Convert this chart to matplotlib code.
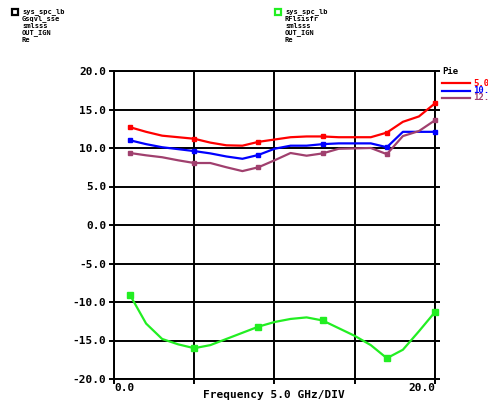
import numpy as np
import matplotlib
matplotlib.use("Agg")
import matplotlib.pyplot as plt

# Frecuencias de barrido (GHz) y curvas de ganancia / retorno (dB)
freq = [1, 2, 3, 4, 5, 6, 7, 8, 9, 10, 11, 12, 13, 14, 15, 16, 17, 18, 19, 20]
gain_p5 = [12.7, 12.1, 11.6, 11.4, 11.2, 10.7, 10.35, 10.3, 10.8, 11.1,
           11.4, 11.5, 11.5, 11.4, 11.4, 11.4, 12.0, 13.4, 14.1, 15.8]
gain_p10 = [11.0, 10.5, 10.1, 9.85, 9.6, 9.3, 8.9, 8.6, 9.1, 9.9,
            10.3, 10.3, 10.5, 10.6, 10.6, 10.6, 10.1, 12.1, 12.1, 12.1]
gain_p12 = [9.35, 9.05, 8.8, 8.4, 8.05, 8.05, 7.5, 7.0, 7.5, 8.4,
            9.35, 9.0, 9.3, 9.9, 9.95, 10.0, 9.2, 11.55, 12.2, 13.6]
ret_loss = [-9.1, -12.8, -14.8, -15.5, -16.0, -15.6, -14.8, -14.0, -13.2, -12.6,
            -12.2, -12.0, -12.4, -13.4, -14.4, -15.6, -17.3, -16.2, -13.8, -11.3]

pin_labels = ["5.0", "10.", "12."]
marker_idx = [0, 4, 8, 12, 16, 19]
yticks = [20, 15, 10, 5, 0, -5, -10, -15, -20]

RED = "#ff0000"
BLUE = "#0000ff"
PURPLE = "#a0406e"
GREEN = "#22ee22"
FONT = "DejaVu Sans Mono"

fig = plt.figure(figsize=(4.89, 4.05), dpi=100)
ax = fig.add_axes([114 / 489, 26 / 405, 321 / 489, 308 / 405])

series = [(gain_p5, RED, 3), (gain_p10, BLUE, 3), (gain_p12, PURPLE, 3),
          (ret_loss, GREEN, 4.5)]
for vals, col, ms in series:
    ax.plot(freq, vals, color=col, lw=1.6, marker="s", ms=ms,
            markevery=marker_idx, mec=col, mfc=col, clip_on=False, zorder=3)

ax.set_xlim(0, 20)
ax.set_ylim(-20, 20)
ax.set_xticks([0, 5, 10, 15, 20])
ax.set_xticklabels([])
ax.set_yticks(yticks)
ax.set_yticklabels([f"{v:.1f}" for v in yticks], fontfamily=FONT,
                   fontweight="bold", fontsize=8)
ax.grid(True, color="black", lw=1.4)
ax.tick_params(axis="both", direction="out", length=3.5, width=1.4,
               color="black", right=True, pad=2)
ax.tick_params(axis="y", which="both", labelright=False)
for sp in ax.spines.values():
    sp.set_linewidth(1.4)

# etiquetas de los extremos del eje de frecuencia
ax.text(0, -20.5, "0.0", ha="left", va="top", fontfamily=FONT,
        fontweight="bold", fontsize=8, transform=ax.transData)
ax.text(20, -20.5, "20.0", ha="right", va="top", fontfamily=FONT,
        fontweight="bold", fontsize=8, transform=ax.transData)
fig.text(274 / 489, 1 - 395 / 405, "Frequency 5.0 GHz/DIV", ha="center",
         va="center", fontfamily=FONT, fontweight="bold", fontsize=8)

# leyenda de potencia de entrada a la derecha
fig.text(442 / 489, 1 - 71 / 405, "Pie", ha="left", va="center",
         fontfamily=FONT, fontweight="bold", fontsize=6.5)
for i, (lab, col) in enumerate(zip(pin_labels, [RED, BLUE, PURPLE])):
    y = 1 - (83 + 7.5 * i) / 405
    fig.add_artist(plt.Line2D([442 / 489, 470 / 489], [y, y], color=col, lw=1.6))
    fig.text(473 / 489, y, lab, ha="left", va="center", color=col,
             fontfamily=FONT, fontweight="bold", fontsize=6.5)

# bloques de descripcion de las trazas
blocks = [(15, "black", ["sys_spc_lb", "Gsqvl_sse", "smlsss", "OUT_IGN", "Re"]),
          (278, GREEN, ["sys_spc_lb", "RFlsisfr", "smlsss", "OUT_IGN", "Re"])]
for x0, col, lines in blocks:
    fig.add_artist(plt.Line2D([x0 / 489], [1 - 12 / 405], marker="s", ms=4,
                              mfc="white", mec=col, mew=1.6, ls="none"))
    for j, txt in enumerate(lines):
        fig.text((x0 + 7) / 489, 1 - (12 + 7 * j) / 405, txt, ha="left",
                 va="center", fontfamily=FONT, fontweight="bold", fontsize=5)

fig.savefig("out.png", dpi=100)
